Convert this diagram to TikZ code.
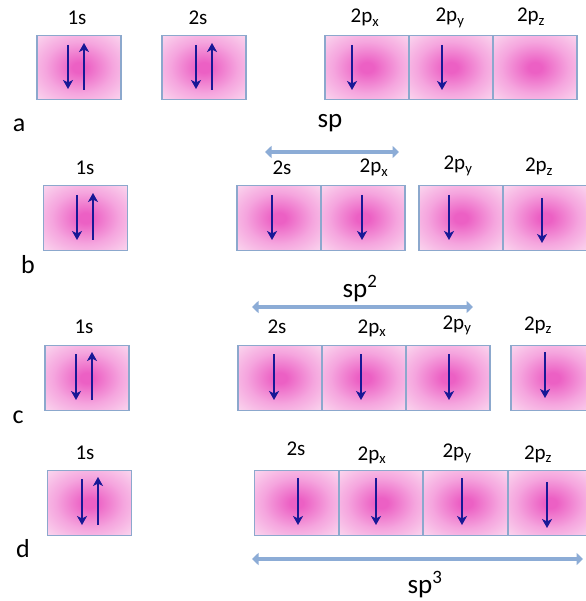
\documentclass[tikz,border=0pt]{standalone}
\usepackage{fontspec}
\setmainfont{Carlito}
\usetikzlibrary{arrows.meta}
\definecolor{orbc}{RGB}{236,96,196}
\definecolor{orbm}{RGB}{245,165,222}
\definecolor{orbl}{RGB}{251,222,241}
\definecolor{orbe}{RGB}{254,244,251}
\definecolor{orbline}{RGB}{140,168,205}
\definecolor{elec}{RGB}{24,24,150}
\definecolor{sparrow}{RGB}{140,172,214}
\pgfdeclareradialshading{orbshade}{\pgfpoint{0bp}{0bp}}{color(0bp)=(orbc); color(4bp)=(orbc); color(20bp)=(orbm); color(38bp)=(orbl); color(50bp)=(orbe)}
\begin{document}
\begin{tikzpicture}[x=1pt,y=-1pt,
  orb/.style={draw=orbline, line width=1.3pt, shading=orbshade, minimum width=84pt, minimum height=64.5pt, inner sep=0pt},
  eline/.style={draw=elec, line width=2.6pt, -{Stealth[length=9pt,width=10pt,inset=2.5pt]}},
  lbl/.style={font=\fontsize{21}{24}\selectfont, inner sep=0pt, anchor=base},
  sub/.style={font=\fontsize{27}{30}\selectfont, inner sep=0pt, anchor=base},
  rowl/.style={font=\fontsize{26}{30}\selectfont, inner sep=0pt, anchor=base},
  spline/.style={draw=sparrow, line width=4.5pt, {Triangle[length=6.5pt,width=12pt]}-{Triangle[length=6.5pt,width=12pt]}}]
\useasboundingbox (0,0) rectangle (585,601);
\fill[white] (0,0) rectangle (585,601);
\newcommand{\px}{2p\textsubscript{x}}
\newcommand{\py}{2p\textsubscript{y}}
\newcommand{\pz}{2p\textsubscript{z}}
% ---------- row a ----------
\node[orb] (a1s) at (79,67.5) {};
\node[orb] (a2s) at (204,67.5) {};
\node[orb] (a2px) at (367,67.5) {};
\node[orb] (a2py) at (451,67.5) {};
\node[orb] (a2pz) at (535,67.5) {};
\node[lbl] (la1s) at (77,25) {1s};
\node[lbl] (la2s) at (198,25) {2s};
\node[lbl] (la2px) at (365,23) {\px};
\node[lbl] (la2py) at (450,22) {\py};
\node[lbl] (la2pz) at (531,22) {\pz};
\node[rowl] (ra) at (19,132) {a};
\draw[eline] (68,45) -- (68,89);
\draw[eline] (84,90) -- (84,43);
\draw[eline] (196,45) -- (196,89);
\draw[eline] (212,90) -- (212,43);
\draw[eline] (352,45) -- (352,90);
\draw[eline] (442,45) -- (442,90);
% ---------- row b ----------
\node[orb] (b1s) at (85.5,218) {};
\node[orb] (b2s) at (279,218) {};
\node[orb] (b2px) at (363,218) {};
\node[orb] (b2py) at (461,218) {};
\node[orb] (b2pz) at (545,218) {};
\node[lbl] (lb1s) at (85,175) {1s};
\node[lbl] (lb2s) at (282,175) {2s};
\node[lbl] (lb2px) at (374,173) {\px};
\node[lbl] (lb2py) at (458,170) {\py};
\node[lbl] (lb2pz) at (539,172) {\pz};
\node[rowl] (rb) at (28,273) {b};
\node[sub] (spb) at (330,128) {sp};
\coordinate (sbL) at (265,152);
\coordinate (sbR) at (399,152);
\draw[spline] (sbL) -- (sbR);
\draw[eline] (77,195) -- (77,240);
\draw[eline] (93,240) -- (93,193);
\draw[eline] (272,195) -- (272,240);
\draw[eline] (362,195) -- (362,240);
\draw[eline] (449,195) -- (449,240);
\draw[eline] (542,198) -- (542,243);
% ---------- row c ----------
\node[orb] (c1s) at (87,378) {};
\node[orb] (c2s) at (280,378) {};
\node[orb] (c2px) at (364,378) {};
\node[orb] (c2py) at (448,378) {};
\node[orb] (c2pz) at (553,378) {};
\node[lbl] (lc1s) at (84,333) {1s};
\node[lbl] (lc2s) at (277,333) {2s};
\node[lbl] (lc2px) at (372,333) {\px};
\node[lbl] (lc2py) at (457,329) {\py};
\node[lbl] (lc2pz) at (538,330) {\pz};
\node[rowl] (rc) at (18,423) {c};
\node[sub] (spc) at (360,297) {sp\textsuperscript{2}};
\coordinate (scL) at (252,307);
\coordinate (scR) at (473,307);
\draw[spline] (scL) -- (scR);
\draw[eline] (76,354) -- (76,400);
\draw[eline] (92,400) -- (92,352);
\draw[eline] (274,354) -- (274,400);
\draw[eline] (361,354) -- (361,400);
\draw[eline] (449,354) -- (449,400);
\draw[eline] (545,352) -- (545,398);
% ---------- row d ----------
\node[orb] (d1s) at (89.5,503) {};
\node[orb] (d2s) at (296.5,503) {};
\node[orb] (d2px) at (381,503) {};
\node[orb] (d2py) at (465.5,503) {};
\node[orb] (d2pz) at (550,503) {};
\node[lbl] (ld1s) at (85,459) {1s};
\node[lbl] (ld2s) at (296,455) {2s};
\node[lbl] (ld2px) at (372,460) {\px};
\node[lbl] (ld2py) at (457,457) {\py};
\node[lbl] (ld2pz) at (538,459) {\pz};
\node[rowl] (rd) at (23,557) {d};
\node[sub] (spd) at (425,593) {sp\textsuperscript{3}};
\coordinate (sdL) at (252,559);
\coordinate (sdR) at (583,559);
\draw[spline] (sdL) -- (sdR);
\draw[eline] (82,479) -- (82,525);
\draw[eline] (98,525) -- (98,477);
\draw[eline] (298,478) -- (298,525);
\draw[eline] (376,478) -- (376,525);
\draw[eline] (462,478) -- (462,525);
\draw[eline] (547,482) -- (547,528);
\end{tikzpicture}
\end{document}
